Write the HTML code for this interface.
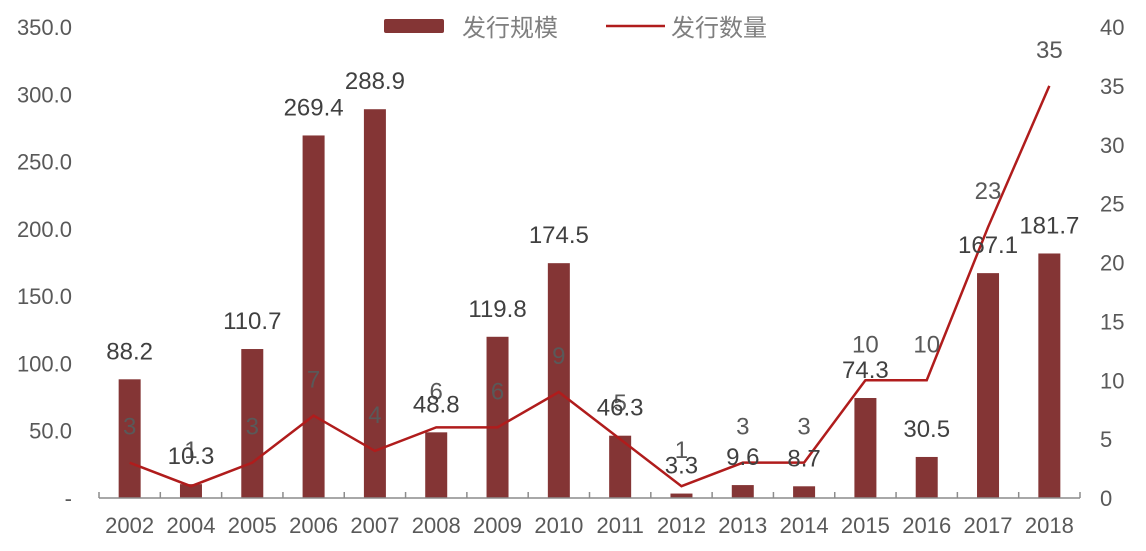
<!DOCTYPE html>
<html><head><meta charset="utf-8"><style>
body{margin:0;background:#fff;}
svg text{font-family:"Liberation Sans","Noto Sans CJK SC",sans-serif;}
</style></head><body>
<svg id="c" width="1146" height="546"></svg>
<script>
const categories=["2002","2004","2005","2006","2007","2008","2009","2010","2011","2012","2013","2014","2015","2016","2017","2018"];
const scaleValues=[88.2,10.3,110.7,269.4,288.9,48.8,119.8,174.5,46.3,3.3,9.6,8.7,74.3,30.5,167.1,181.7];
const countValues=[3,1,3,7,4,6,6,9,5,1,3,3,10,10,23,35];
const leftTicks=[0,50,100,150,200,250,300,350];
const rightTicks=[0,5,10,15,20,25,30,35,40];
const NS="http://www.w3.org/2000/svg";
const svg=document.getElementById('c');
const x0=99,x1=1080,yb=498,yt=27;
const bw=(x1-x0)/categories.length;
const xc=i=>x0+bw*(i+0.5);
const yl=v=>yb-(v/350)*(yb-yt);
const yr=v=>yb-(v/40)*(yb-yt);
function el(t,a,txt){const e=document.createElementNS(NS,t);for(const k in a)e.setAttribute(k,a[k]);if(txt!==undefined)e.textContent=txt;svg.appendChild(e);return e;}
leftTicks.forEach(v=>{const e=el('text',{x:72,y:yl(v)+8,'text-anchor':'end','font-size':22,fill:'#595959'},v===0?'-':v.toFixed(1));

});
rightTicks.forEach(v=>{const e=el('text',{x:1100,y:yr(v)+8,'text-anchor':'start','font-size':22,fill:'#595959'},String(v));

});
scaleValues.forEach((v,i)=>{const r=el('rect',{x:xc(i)-11,y:yl(v),width:22,height:yb-yl(v),fill:'#843535'});

});
const ax=el('line',{x1:x0,y1:yb,x2:x1,y2:yb,stroke:'#8c8c8c','stroke-width':1.5});


for(let i=0;i<=categories.length;i++){const t=el('line',{x1:x0+bw*i,y1:yb,x2:x0+bw*i,y2:yb-6,stroke:'#8c8c8c','stroke-width':1.5});

}
categories.forEach((c,i)=>{const t=el('text',{x:xc(i),y:533,'text-anchor':'middle','font-size':22,fill:'#595959'},c);

});
const pl=el('polyline',{points:countValues.map((v,i)=>xc(i)+','+yr(v)).join(' '),fill:'none',stroke:'#b01c1c','stroke-width':2.5});


countValues.forEach((v,i)=>{const t=el('text',{x:xc(i),y:yr(v)-28,'text-anchor':'middle','font-size':24,fill:'#595959'},String(v));

});
scaleValues.forEach((v,i)=>{const t=el('text',{x:xc(i),y:yl(v)-20,'text-anchor':'middle','font-size':24,fill:'#404040'},String(v));

});
const l1=el('rect',{x:384,y:19,width:60,height:14,rx:2,fill:'#843535'});


const l1t=el('text',{x:462,y:36,'font-size':24,fill:'#7f7f7f'},'发行规模');


const l2=el('line',{x1:606,y1:26,x2:665,y2:26,stroke:'#b01c1c','stroke-width':2.5});


const l2t=el('text',{x:671,y:36,'font-size':24,fill:'#7f7f7f'},'发行数量');


</script>
</body></html>
